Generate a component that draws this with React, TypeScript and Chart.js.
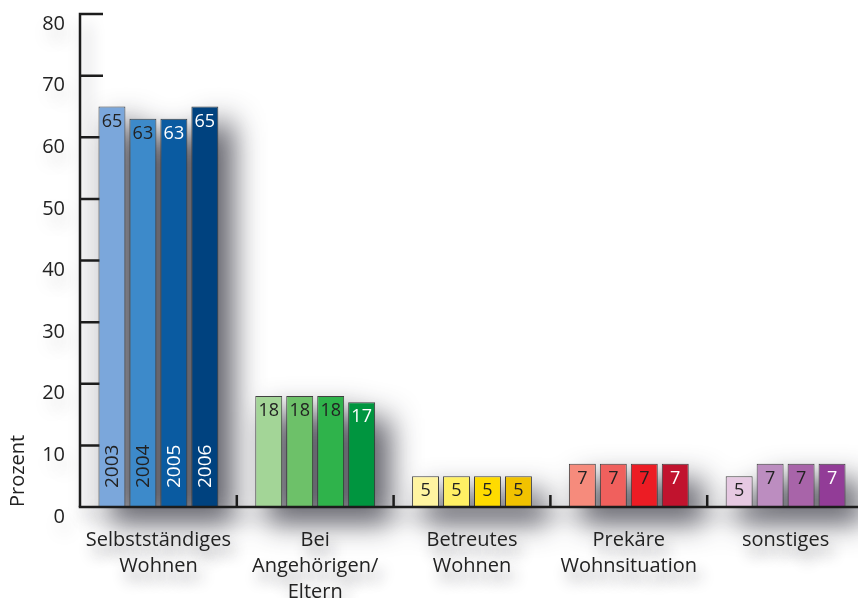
import React, { useEffect, useRef } from "react";
import { Chart, registerables } from "chart.js";

Chart.register(...registerables);

// Wohnsituation nach Jahr, Angaben in Prozent
const categories: string[][] = [
  ["Selbstständiges", "Wohnen"],
  ["Bei", "Angehörigen/", "Eltern"],
  ["Betreutes", "Wohnen"],
  ["Prekäre", "Wohnsituation"],
  ["sonstiges"],
];
const years = ["2003", "2004", "2005", "2006"];

const values2003 = [65, 18, 5, 7, 5];
const values2004 = [63, 18, 5, 7, 7];
const values2005 = [63, 18, 5, 7, 7];
const values2006 = [65, 17, 5, 7, 7];

const yMin = 0;
const yMax = 80;
const yStep = 10;

// fill per category, one list per year (light -> dark)
const colors2003 = ["#7ba7db", "#a3d597", "#fff4a1", "#f68b7c", "#e6c9e2"];
const colors2004 = ["#3d8aca", "#6dc169", "#fff064", "#f0605d", "#bc8dc0"];
const colors2005 = ["#0a5ba1", "#2fb34b", "#ffdb00", "#ec1c24", "#a864a9"];
const colors2006 = ["#00427f", "#00953f", "#f1c200", "#c1132e", "#923c97"];

const DARK = "#222222";
const LIGHT = "#ffffff";
// value-label colour per category, one list per year
const text2003 = [DARK, DARK, DARK, DARK, DARK];
const text2004 = [DARK, DARK, DARK, DARK, DARK];
const text2005 = [LIGHT, DARK, DARK, DARK, DARK];
const text2006 = [LIGHT, LIGHT, DARK, LIGHT, LIGHT];

const seriesValues = [values2003, values2004, values2005, values2006];
const seriesColors = [colors2003, colors2004, colors2005, colors2006];
const seriesText = [text2003, text2004, text2005, text2006];

const FONT = "'Open Sans', 'Noto Sans', sans-serif";
const AXIS_COLOR = "#1c1c1c";
const CAT_SIZE = 20;
const LABEL_PAD = 20;
const LABEL_LINE = 26;
const Y_LABEL_SIZE = 20;
const Y_LABEL_OFFSET = 10;

const decorPlugin = {
  id: "decor",
  beforeDraw(chart: any) {
    const { ctx, chartArea, scales } = chart;
    const far = 5000;
    ctx.save();
    ctx.fillStyle = "#ffffff";
    ctx.fillRect(0, 0, chart.width, chart.height);

    // soft drop shadow behind the bars (shape drawn off-canvas, only its shadow lands)
    ctx.shadowColor = "rgba(30,30,42,0.78)";
    ctx.shadowBlur = 30;
    ctx.shadowOffsetX = far + 14;
    ctx.shadowOffsetY = 16;
    ctx.fillStyle = "#000";
    ctx.beginPath();
    chart.data.datasets.forEach((_: any, di: number) => {
      chart.getDatasetMeta(di).data.forEach((el: any) => {
        ctx.rect(el.x - el.width / 2 - far, el.y, el.width, el.base - el.y);
      });
    });
    ctx.fill();

    // shadow of the axes
    ctx.shadowColor = "rgba(30,30,42,0.35)";
    ctx.shadowBlur = 16;
    ctx.shadowOffsetX = far + 6;
    ctx.shadowOffsetY = 10;
    ctx.fillRect(chartArea.left - 1 - far, chartArea.top, 3, chartArea.bottom - chartArea.top);
    ctx.fillRect(chartArea.left - far, chartArea.bottom - 1, chart.width, 3);

    // blurred shadow under the category labels
    ctx.shadowColor = "rgba(30,30,42,0.45)";
    ctx.shadowBlur = 14;
    ctx.shadowOffsetX = far + 5;
    ctx.shadowOffsetY = 10;
    ctx.font = `${CAT_SIZE}px ${FONT}`;
    ctx.textAlign = "center";
    ctx.textBaseline = "middle";
    categories.forEach((lines, i) => {
      const cx = scales.x.getPixelForTick(i);
      lines.forEach((line, k) => {
        const cy = chartArea.bottom + LABEL_PAD + LABEL_LINE / 2 + k * LABEL_LINE;
        ctx.fillText(line, cx - far, cy);
      });
    });

    // faint haze behind the value axis numbers
    ctx.shadowColor = "rgba(30,30,42,0.22)";
    ctx.shadowBlur = 18;
    ctx.font = `${Y_LABEL_SIZE}px ${FONT}`;
    ctx.textAlign = "right";
    for (let v = yMin; v <= yMax; v += yStep) {
      ctx.fillText(String(v), chartArea.left - 15 - far, scales.y.getPixelForValue(v) + Y_LABEL_OFFSET);
    }
    ctx.restore();
  },
  beforeDatasetsDraw(chart: any) {
    const { ctx, chartArea, scales } = chart;
    ctx.save();
    ctx.strokeStyle = AXIS_COLOR;
    ctx.lineWidth = 2.5;
    // vertical axis with inward tick marks
    ctx.beginPath();
    ctx.moveTo(chartArea.left, scales.y.getPixelForValue(yMax) - 1.25);
    ctx.lineTo(chartArea.left, chartArea.bottom);
    for (let v = yMin + yStep; v <= yMax; v += yStep) {
      const py = scales.y.getPixelForValue(v);
      ctx.moveTo(chartArea.left, py);
      ctx.lineTo(chartArea.left + 23, py);
    }
    ctx.stroke();
    ctx.restore();
  },
  afterDatasetsDraw(chart: any) {
    const { ctx, chartArea, scales } = chart;
    ctx.save();
    // baseline and category separators
    ctx.strokeStyle = AXIS_COLOR;
    ctx.lineWidth = 2.5;
    ctx.beginPath();
    ctx.moveTo(chartArea.left - 1.25, chartArea.bottom);
    ctx.lineTo(chart.width, chartArea.bottom);
    const n = categories.length;
    for (let i = 0; i < n; i++) {
      const a = scales.x.getPixelForTick(i);
      const b = i < n - 1 ? scales.x.getPixelForTick(i + 1) : a + (a - scales.x.getPixelForTick(i - 1));
      const sx = (a + b) / 2;
      ctx.moveTo(sx, chartArea.bottom);
      ctx.lineTo(sx, chartArea.bottom - 12);
    }
    ctx.stroke();

    // values at the top of each bar
    ctx.textAlign = "center";
    ctx.textBaseline = "middle";
    chart.data.datasets.forEach((ds: any, di: number) => {
      chart.getDatasetMeta(di).data.forEach((el: any, i: number) => {
        ctx.fillStyle = seriesText[di][i];
        ctx.font = `18px ${FONT}`;
        ctx.fillText(String(ds.data[i]), el.x, el.y + 15);
      });
    });

    // year names written up the first group
    chart.data.datasets.forEach((ds: any, di: number) => {
      const el: any = chart.getDatasetMeta(di).data[0];
      ctx.save();
      ctx.translate(el.x, el.base - 19);
      ctx.rotate(-Math.PI / 2);
      ctx.textAlign = "left";
      ctx.textBaseline = "middle";
      ctx.fillStyle = seriesText[di][0];
      ctx.font = `19px ${FONT}`;
      ctx.fillText(ds.label, 0, 1);
      ctx.restore();
    });
    ctx.restore();
  },
};

export default function App() {
  const canvasRef = useRef<HTMLCanvasElement | null>(null);

  useEffect(() => {
    const canvas = canvasRef.current;
    if (!canvas) return;
    const chart = new Chart(canvas, {
      type: "bar",
      data: {
        labels: categories,
        datasets: years.map((year, di) => ({
          label: year,
          data: seriesValues[di],
          backgroundColor: seriesColors[di],
          borderColor: "rgba(45,45,45,0.9)",
          borderWidth: 1,
          categoryPercentage: 0.79,
          barPercentage: 0.87,
        })),
      },
      options: {
        responsive: false,
        animation: false,
        devicePixelRatio: 1,
        layout: { padding: { top: 14, right: 0, left: 0, bottom: 0 } },
        plugins: {
          legend: { display: false },
          tooltip: { enabled: false },
        },
        scales: {
          x: {
            grid: { display: false, drawTicks: false },
            border: { display: false },
            ticks: {
              padding: LABEL_PAD,
              color: "#222222",
              font: { family: FONT, size: CAT_SIZE, lineHeight: LABEL_LINE / CAT_SIZE },
              maxRotation: 0,
              autoSkip: false,
            },
            afterFit: (s: any) => {
              s.height = 91;
              s.paddingLeft = 0;
              s.paddingRight = 0;
            },
          },
          y: {
            min: yMin,
            max: yMax,
            grid: { display: false, drawTicks: false },
            border: { display: false },
            ticks: {
              stepSize: yStep,
              padding: 15,
              labelOffset: Y_LABEL_OFFSET,
              color: "#222222",
              font: { family: FONT, size: Y_LABEL_SIZE },
            },
            title: {
              display: true,
              text: "Prozent",
              align: "start",
              color: "#222222",
              font: { family: FONT, size: 20 },
              padding: { top: 6, bottom: 0 },
            },
            afterFit: (s: any) => {
              s.width = 80;
              s.paddingTop = 0;
              s.paddingBottom = 0;
            },
          },
        },
      },
      plugins: [decorPlugin],
    });
    return () => chart.destroy();
  }, []);

  return (
    <div
      style={{
        position: "fixed",
        left: 0,
        top: 0,
        width: 858,
        height: 598,
        overflow: "hidden",
        background: "#ffffff",
      }}
    >
      <canvas ref={canvasRef} width={864} height={598} style={{ display: "block" }} />
    </div>
  );
}
